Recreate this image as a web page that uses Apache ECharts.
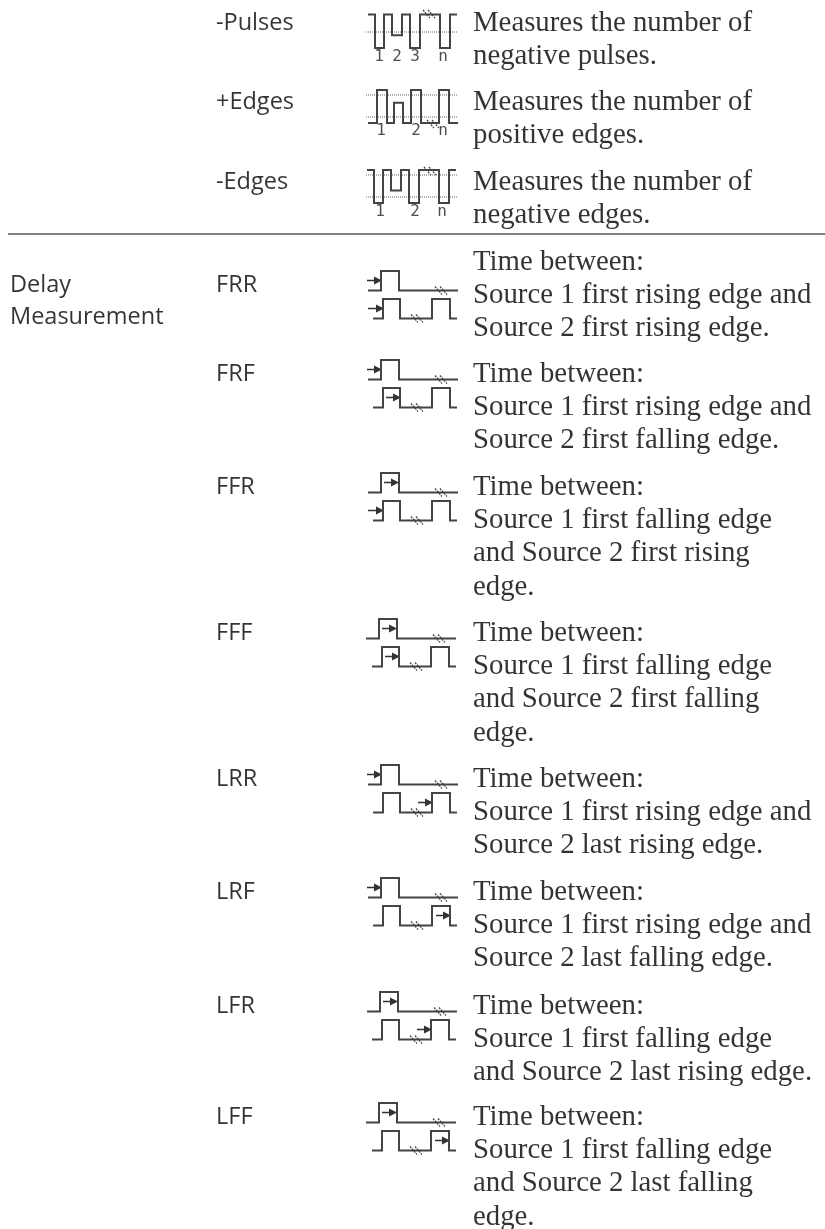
<!DOCTYPE html>
<html>
<head>
<meta charset="utf-8">
<style>
  html, body { margin: 0; padding: 0; background: #fff; }
  #main { width: 825px; height: 1229px; }
</style>
<script src="https://cdn.jsdelivr.net/npm/echarts@6/dist/echarts.min.js"></script>
</head>
<body>
<div id="main"></div>
<script>
// table text
const sectionLines = ['Delay', 'Measurement']
const rowNames = ['-Pulses', '+Edges', '-Edges', 'FRR', 'FRF', 'FFR', 'FFF', 'LRR', 'LRF', 'LFR', 'LFF']
const rowText = [
  ['Measures the number of', 'negative pulses.'],
  ['Measures the number of', 'positive edges.'],
  ['Measures the number of', 'negative edges.'],
  ['Time between:', 'Source 1 first rising edge and', 'Source 2 first rising edge.'],
  ['Time between:', 'Source 1 first rising edge and', 'Source 2 first falling edge.'],
  ['Time between:', 'Source 1 first falling edge', 'and Source 2 first rising', 'edge.'],
  ['Time between:', 'Source 1 first falling edge', 'and Source 2 first falling', 'edge.'],
  ['Time between:', 'Source 1 first rising edge and', 'Source 2 last rising edge.'],
  ['Time between:', 'Source 1 first rising edge and', 'Source 2 last falling edge.'],
  ['Time between:', 'Source 1 first falling edge', 'and Source 2 last rising edge.'],
  ['Time between:', 'Source 1 first falling edge', 'and Source 2 last falling', 'edge.']
]

// waveforms, x in px from the icon's left, y as 0 = high .. 1 = low
const negativeWave = [[0, 0], [7, 0], [7, 1], [16, 1], [16, 0], [24, 0], [24, 0.62], [34, 0.62], [34, 0], [42, 0], [42, 1], [52, 1], [52, 0], [72, 0], [72, 1], [82, 1], [82, 0], [89, 0]]
const positiveWave = [[0, 1], [9, 1], [9, 0], [19, 0], [19, 1], [26, 1], [26, 0.39], [35, 0.39], [35, 1], [43, 1], [43, 0], [53, 0], [53, 1], [71, 1], [71, 0], [81, 0], [81, 1], [90, 1]]
const sourceWave = [[0, 1], [13, 1], [13, 0], [31, 0], [31, 1], [90, 1]]
const targetWave = [[0, 1], [10, 1], [10, 0], [27, 0], [27, 1], [59, 1], [59, 0], [77, 0], [77, 1], [84, 1]]

// counter icons: tick labels and where they sit
const counterLabels = [['1', '2', '3', 'n'], ['1', '2', 'n'], ['1', '2', 'n']]
const counterLabelX = [[379, 397, 415, 443], [381, 416, 443], [380, 415, 442]]

// which edge the arrows mark in each delay row
const sourceEdge = ['rise', 'rise', 'fall', 'fall', 'rise', 'rise', 'fall', 'fall']
const targetEdge = ['firstRise', 'firstFall', 'firstRise', 'firstFall', 'lastRise', 'lastFall', 'lastRise', 'lastFall']

// layout
const nameY = [23, 102, 182, 285, 374, 487, 633, 779, 892, 1006, 1117]
const textY = [23, 102, 182, 262, 374, 487, 633, 779, 892, 1006, 1117]
const lineGap = 33.4
const counterY = [14.5, 90, 170]
const counterAmp = [33.5, 33, 33]
const counterLeft = [368, 368, 367]
const counterDots = [[32], [95, 117], [175, 197]]
const counterLabelY = [57, 131, 212]
const counterBreak = [[423, 10], [427, 120], [424, 167]]
const delayTop = [271, 360, 473, 619, 765, 878, 992, 1103]
const delayLeft = [368, 368, 368, 366, 368, 368, 367, 366]
const targetLeft = [373, 373, 373, 372, 373, 373, 372, 372]
const sourceArrowX = { rise: [-1, 13], fall: [16, 30] }
const targetArrowX = { firstRise: [-5, 10], firstFall: [13, 27], lastRise: [45, 59], lastFall: [63, 77] }

const gap = ['-', '-']
let traces = []
let dots = []
let arrows = []
let arrowHeads = []
let breaks = []

const addWave = (wave, left, top, amp) => {
  wave.forEach((p) => traces.push([left + p[0], top + p[1] * amp]))
  traces.push(gap)
}
const addArrow = (x0, x1, y) => {
  arrows.push([x0, y], [x1 - 3, y], gap)
  arrowHeads.push([x1 - 3, y])
}
const addBreak = (x, y) => {
  breaks.push([x, y], [x + 7, y + 8], gap, [x + 5, y], [x + 12, y + 8], gap)
}

counterY.forEach((top, i) => {
  addWave(i === 1 ? positiveWave : negativeWave, counterLeft[i], top, counterAmp[i])
  counterDots[i].forEach((y) => dots.push([366, y], [458, y], gap))
  addBreak(counterBreak[i][0], counterBreak[i][1])
})

delayTop.forEach((top, i) => {
  let left = delayLeft[i]
  let left2 = targetLeft[i]
  let top2 = top + 28
  addWave(sourceWave, left, top, 19.5)
  addWave(targetWave, left2, top2, 19.5)
  let a = sourceArrowX[sourceEdge[i]]
  addArrow(left + a[0], left + a[1], top + 9.5)
  let b = targetArrowX[targetEdge[i]]
  addArrow(left2 + b[0], left2 + b[1], top2 + 9.5)
  addBreak(left + 67, top + 15.5)
  addBreak(left2 + 38, top2 + 15.5)
})

let nameData = rowNames.map((name, i) => ({ value: [216, nameY[i]], name }))
let sectionData = sectionLines.map((name, i) => ({ value: [10, 285 + i * 32], name }))
let textData = []
rowText.forEach((lines, i) => {
  lines.forEach((name, j) => textData.push({ value: [473, textY[i] + j * lineGap], name }))
})
let labelData = []
counterLabels.forEach((labels, i) => {
  labels.forEach((name, j) => labelData.push({ value: [counterLabelX[i][j], counterLabelY[i]], name }))
})

const textSeries = (data, font, size, color, align) => ({
  type: 'scatter',
  data,
  symbolSize: 0,
  silent: true,
  label: {
    show: true,
    position: 'inside',
    formatter: '{b}',
    align,
    verticalAlign: 'middle',
    fontFamily: font,
    fontSize: size,
    color
  }
})
const lineSeries = (data, color, width, type) => ({
  type: 'line',
  data,
  symbol: 'none',
  silent: true,
  connectNulls: false,
  lineStyle: { color, width, type, cap: 'butt', join: 'miter' }
})

let option = {
  animation: false,
  backgroundColor: '#fff',
  grid: { left: 0, right: 0, top: 0, bottom: 0 },
  xAxis: { type: 'value', min: 0, max: 825, show: false },
  yAxis: { type: 'value', min: 0, max: 1229, inverse: true, show: false },
  series: [
    lineSeries([[8, 234], [825, 234]], '#808080', 2, 'solid'),
    lineSeries(dots, '#666', 1, 'dotted'),
    lineSeries(traces, '#444', 2, 'solid'),
    lineSeries(breaks, '#444', 1.2, [2, 1]),
    lineSeries(arrows, '#333', 1.5, 'solid'),
    {
      type: 'scatter',
      data: arrowHeads,
      symbol: 'triangle',
      symbolRotate: -90,
      symbolSize: 8,
      silent: true,
      itemStyle: { color: '#333', opacity: 1 }
    },
    textSeries(sectionData, '"Open Sans"', 23.5, '#000', 'left'),
    textSeries(nameData, '"Open Sans"', 23.5, '#000', 'left'),
    textSeries(textData, '"Liberation Serif"', 28.8, '#000', 'left'),
    textSeries(labelData, '"DejaVu Sans Mono"', 16, '#222', 'center')
  ]
}

var chartDom = document.getElementById('main');
var myChart = echarts.init(chartDom, null, { renderer: 'canvas' });
option && myChart.setOption(option);
</script>
</body>
</html>
